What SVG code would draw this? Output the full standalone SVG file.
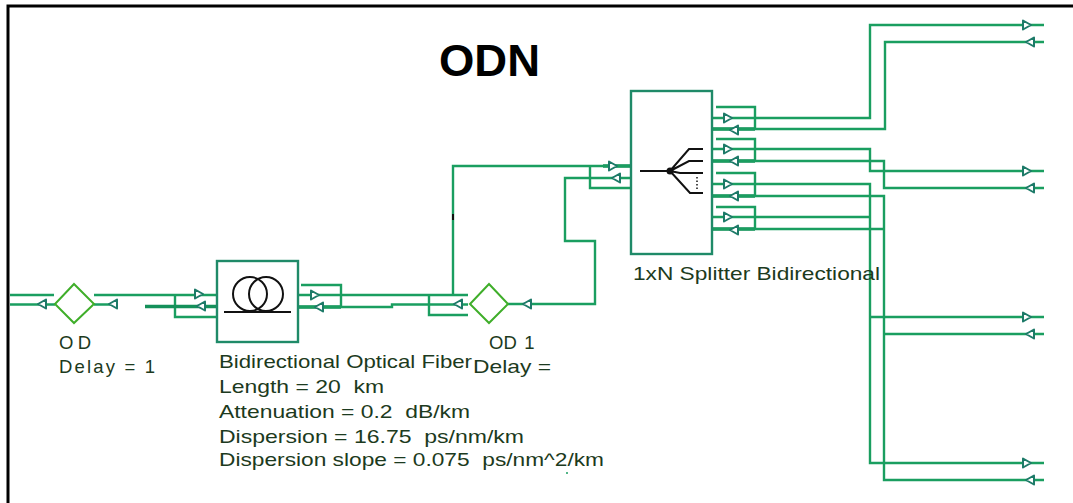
<svg xmlns="http://www.w3.org/2000/svg" width="1073" height="503" viewBox="0 0 1073 503">
<style>
.w{fill:none;stroke:#1a9e60;stroke-width:2.400}
.t{fill:none;stroke:#14905a;stroke-width:3.400}
.b{fill:#fff;stroke:#1f8a68;stroke-width:2.400}
.d{fill:#fff;stroke:#3fae2a;stroke-width:2}
.a{fill:#fff;stroke:#1d7a68;stroke-width:2;stroke-linejoin:round}
.k{fill:none;stroke:#111;stroke-width:2}
text{font-family:"Liberation Sans",Arial,sans-serif;font-size:18.500px;fill:#1c3a20;white-space:pre}
</style>
<defs>
<path id="r" class="a" d="M-4-4.500L4 0L-4 4.500Z"/>
<path id="l" class="a" d="M4-4.500L-4 0L4 4.500Z"/>
</defs>
<rect width="1073" height="503" fill="#fff"/>
<path d="M8 503V6H1073" fill="none" stroke="#000" stroke-width="3"/>
<text id="title" x="439" y="76" textLength="101" lengthAdjust="spacingAndGlyphs" style="font-size:44px;font-weight:bold;fill:#000">ODN</text>
<g id="connectors">
<path class="w" d="M10 295H54M10 304.500H55"/>
<path class="w" d="M94 295H216M94 304.500H118M175 295V317H216"/>
<path class="t" d="M145 306.500H216M298 307H341M712 129H755M712 161H755M712 196H755M712 229H755M603 166H630"/>
<path class="w" d="M301 285H341V307M298 295H468M298 307H392V304.500H468M429 295V315H468M453 295V166H630M590 166V188H630M508 304H595V241H565V178H630"/>
<path class="w" d="M716 107H755V129M712 118H870V25H1044M712 129H885V42H1044"/>
<path class="w" d="M716 139H755V161M712 149H870V171H1044M712 161H884V188H1044"/>
<path class="w" d="M716 173H755V196M712 184H870V463H1044M712 196H884V480H1044"/>
<path class="w" d="M716 207H755V229M712 217H870M712 229H884"/>
<path class="w" d="M870 317H1044M884 334H1044"/>
<path d="M453 214V220" stroke="#111" stroke-width="2" fill="none"/>
<path d="M567 472v2" stroke="#1a9e60" stroke-width="1.500" fill="none"/>
<use href="#l" x="42" y="304"/><use href="#l" x="113" y="304"/>
<use href="#r" x="199" y="294"/><use href="#l" x="201" y="306"/>
<use href="#r" x="315" y="295"/><use href="#l" x="319" y="307"/>
<use href="#l" x="458" y="304"/><use href="#l" x="527" y="304"/>
<use href="#r" x="613" y="166"/><use href="#l" x="616" y="178"/>
<use href="#r" x="728" y="118"/><use href="#l" x="734" y="130"/>
<use href="#r" x="728" y="149"/><use href="#l" x="734" y="161"/>
<use href="#r" x="728" y="184"/><use href="#l" x="734" y="196"/>
<use href="#r" x="728" y="217"/><use href="#l" x="734" y="230"/>
<use href="#r" x="1027" y="25"/><use href="#l" x="1030" y="42"/>
<use href="#r" x="1027" y="171"/><use href="#l" x="1030" y="188"/>
<use href="#r" x="1027" y="317"/><use href="#l" x="1030" y="334"/>
<use href="#r" x="1027" y="463"/><use href="#l" x="1030" y="480"/>
</g>
<g id="od">
<path class="d" d="M74 284L94 304L74 323L55 304Z"/>
<text x="59" y="349" textLength="32">OD</text>
<text x="59" y="373" textLength="96">Delay = 1</text>
</g>
<g id="fiber">
<rect class="b" x="217" y="261" width="81" height="81"/>
<ellipse class="k" cx="250" cy="294" rx="17" ry="17"/>
<ellipse class="k" cx="266" cy="294" rx="17" ry="17"/>
<path class="k" d="M224 312H291"/>
<text x="219" y="368" textLength="253" lengthAdjust="spacingAndGlyphs">Bidirectional Optical Fiber</text>
<text x="219" y="393" textLength="165" lengthAdjust="spacingAndGlyphs">Length = 20  km</text>
<text x="219" y="418" textLength="251" lengthAdjust="spacingAndGlyphs">Attenuation = 0.2  dB/km</text>
<text x="219" y="443" textLength="305" lengthAdjust="spacingAndGlyphs">Dispersion = 16.75  ps/nm/km</text>
<text x="219" y="466" textLength="385" lengthAdjust="spacingAndGlyphs">Dispersion slope = 0.075  ps/nm^2/km</text>
</g>
<g id="od1">
<path class="d" d="M489 284L508 304L489 323L470 304Z"/>
<text y="349"><tspan x="489">OD</tspan><tspan x="519"> 1</tspan></text>
<text x="473" y="373" textLength="78" lengthAdjust="spacingAndGlyphs">Delay =</text>
</g>
<g id="splitter">
<rect class="b" x="631" y="91" width="81" height="163"/>
<path class="k" d="M640 171H670L689 149H703M670 171L689 161H703M670 171L680 173H703M670 171L690 193H703"/>
<path d="M697 177V189" stroke="#111" stroke-width="1.500" stroke-dasharray="1.500 2" fill="none"/>
<circle cx="670" cy="171" r="3.500" fill="#111"/>
<text x="633" y="280" textLength="247" lengthAdjust="spacingAndGlyphs">1xN Splitter Bidirectional</text>
</g>
</svg>
